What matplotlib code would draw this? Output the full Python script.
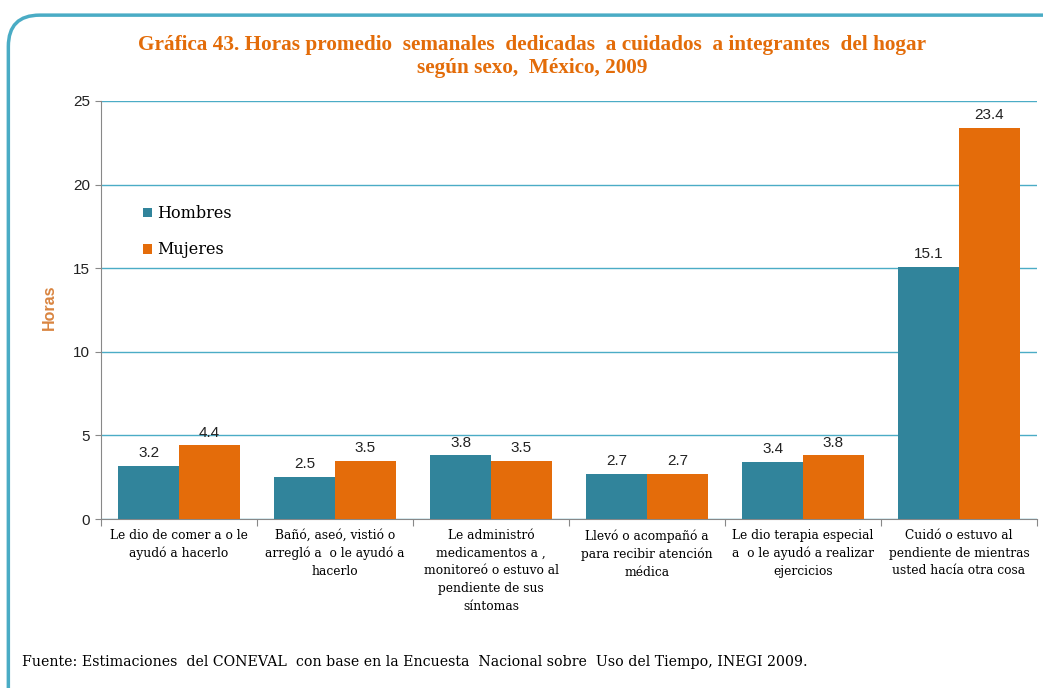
import numpy as np
import matplotlib.pyplot as plt
from matplotlib.patches import FancyBboxPatch

categorias = [
    "Le dio de comer a o le\nayudó a hacerlo",
    "Bañó, aseó, vistió o\narregló a  o le ayudó a\nhacerlo",
    "Le administró\nmedicamentos a ,\nmonitoreó o estuvo al\npendiente de sus\nsíntomas",
    "Llevó o acompañó a\npara recibir atención\nmédica",
    "Le dio terapia especial\na  o le ayudó a realizar\nejercicios",
    "Cuidó o estuvo al\npendiente de mientras\nusted hacía otra cosa",
]
hombres = [3.2, 2.5, 3.8, 2.7, 3.4, 15.1]
mujeres = [4.4, 3.5, 3.5, 2.7, 3.8, 23.4]

c_hom = '#31849B'
c_muj = '#E46C0A'
c_grid = '#4BACC6'
c_title = '#E36C09'

plt.rcParams['font.family'] = ['DejaVu Serif']

fig = plt.figure(figsize=(10.43, 6.88), dpi=100)

# marco redondeado
marco = FancyBboxPatch((0.008, -0.05), 1.05, 1.028, boxstyle='round,pad=0,rounding_size=0.03',
                       transform=fig.transFigure, fill=False, edgecolor='#4AACC5', linewidth=2.5,
                       mutation_aspect=1043/688)
fig.patches.append(marco)

ax = fig.add_axes([0.0968, 0.2456, 0.8975, 0.6076])

x = np.arange(len(categorias))
w = 0.39
b1 = ax.bar(x - w/2, hombres, w, color=c_hom, label='Hombres', zorder=3)
b2 = ax.bar(x + w/2, mujeres, w, color=c_muj, label='Mujeres', zorder=3)

for bars, vals in [(b1, hombres), (b2, mujeres)]:
    for r, v in zip(bars, vals):
        ax.text(r.get_x() + r.get_width()/2, v + 0.35, f'{v:.1f}', ha='center', va='bottom',
                fontsize=11, family='Liberation Sans', color='#222222')

ax.set_xlim(-0.5, len(categorias) - 0.5)
ax.set_ylim(0, 25)
ax.set_yticks([0, 5, 10, 15, 20, 25])
ax.yaxis.grid(True, color=c_grid, linewidth=1, zorder=0)
ax.tick_params(axis='y', length=4, labelsize=11, colors='#888888', labelcolor='#222222', pad=4)
for lab in ax.get_yticklabels():
    lab.set_family('Liberation Sans')

ax.set_xticks(np.arange(len(categorias) + 1) - 0.5)
ax.set_xticklabels([])
ax.tick_params(axis='x', length=5, colors='#888888')
for i, c in enumerate(categorias):
    ax.text(i, -0.6, c, ha='center', va='top', fontsize=8.8, linespacing=1.47)

for s in ['top', 'right']:
    ax.spines[s].set_visible(False)
ax.spines['left'].set_color('#888888')
ax.spines['bottom'].set_color('#888888')

ax.legend(loc='upper left', bbox_to_anchor=(0.03, 0.785), frameon=False, fontsize=11.5,
          handlelength=0.55, handleheight=0.55, handletextpad=0.3, labelspacing=1.2)

fig.text(0.047, 0.553, 'Horas', rotation=90, ha='center', va='center', fontsize=11.5,
         fontweight='bold', color='#D9843F', family='Liberation Sans')

fig.text(0.51, 0.918, 'Gráfica 43. Horas promedio  semanales  dedicadas  a cuidados  a integrantes  del hogar\nsegún sexo,  México, 2009',
         ha='center', va='center', fontsize=15.3, fontweight='bold', color=c_title, linespacing=1.22,
         family='Liberation Serif')

fig.text(0.021, 0.038, 'Fuente: Estimaciones  del CONEVAL  con base en la Encuesta  Nacional sobre  Uso del Tiempo, INEGI 2009.',
         ha='left', va='center', fontsize=10.2)

fig.savefig('out.png', dpi=100)
